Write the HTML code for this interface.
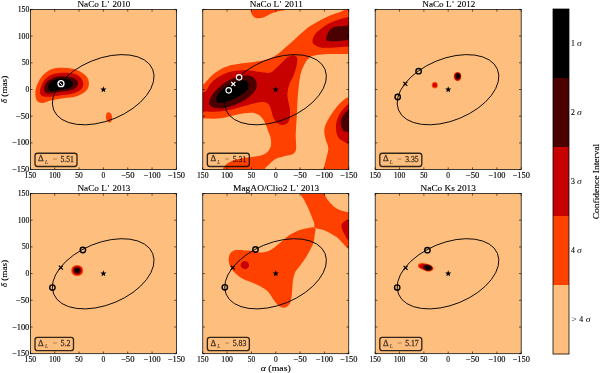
<!DOCTYPE html>
<html><head><meta charset="utf-8"><title>Confidence Interval maps</title>
<style>html,body{margin:0;padding:0;background:#fff;}svg{display:block;}</style>
</head><body>
<svg width="600" height="373" viewBox="0 0 600 373"><defs>
<clipPath id="cp0"><rect x="30.40" y="9.40" width="146.00" height="160.20"/></clipPath>
<clipPath id="cp1"><rect x="202.75" y="9.40" width="146.00" height="160.20"/></clipPath>
<clipPath id="cp2"><rect x="375.20" y="9.40" width="146.00" height="160.20"/></clipPath>
<clipPath id="cp3"><rect x="30.40" y="193.50" width="146.00" height="160.20"/></clipPath>
<clipPath id="cp4"><rect x="202.75" y="193.50" width="146.00" height="160.20"/></clipPath>
<clipPath id="cp5"><rect x="375.20" y="193.50" width="146.00" height="160.20"/></clipPath>
</defs>
<g clip-path="url(#cp0)">
<rect x="30.40" y="9.40" width="146.00" height="160.20" fill="#FEBE7E"/>
<path d="M35.40,91.50 C35.62,88.60 36.67,85.60 38.00,82.80 C39.33,80.00 40.93,77.05 43.40,74.70 C45.87,72.35 49.23,69.85 52.80,68.70 C56.37,67.55 60.78,67.58 64.80,67.80 C68.82,68.02 73.33,68.62 76.90,70.00 C80.47,71.38 84.20,73.87 86.20,76.10 C88.20,78.33 88.90,80.95 88.90,83.40 C88.90,85.85 88.20,88.67 86.20,90.80 C84.20,92.93 80.68,94.97 76.90,96.20 C73.12,97.43 67.75,97.53 63.50,98.20 C59.25,98.87 54.98,99.42 51.40,100.20 C47.82,100.98 44.45,102.90 42.00,102.90 C39.55,102.90 37.80,102.10 36.70,100.20 C35.60,98.30 35.18,94.40 35.40,91.50Z" fill="#FF4100"/>
<path d="M40.00,90.80 C40.33,88.45 41.50,84.08 43.40,81.40 C45.30,78.72 47.83,76.15 51.40,74.70 C54.97,73.25 60.55,72.70 64.80,72.70 C69.05,72.70 73.88,73.25 76.90,74.70 C79.92,76.15 82.12,79.05 82.90,81.40 C83.68,83.75 83.27,86.78 81.60,88.80 C79.93,90.82 76.58,92.38 72.90,93.50 C69.22,94.62 63.75,94.95 59.50,95.50 C55.25,96.05 50.42,96.80 47.40,96.80 C44.38,96.80 42.63,96.50 41.40,95.50 C40.17,94.50 39.67,93.15 40.00,90.80Z" fill="#C70000"/>
<path d="M44.00,88.80 C44.00,86.78 45.27,83.42 47.40,81.40 C49.53,79.38 53.23,77.48 56.80,76.70 C60.37,75.92 65.45,76.13 68.80,76.70 C72.15,77.27 75.45,78.65 76.90,80.10 C78.35,81.55 78.40,83.73 77.50,85.40 C76.60,87.07 74.73,88.98 71.50,90.10 C68.27,91.22 62.12,91.53 58.10,92.10 C54.08,92.67 49.75,94.05 47.40,93.50 C45.05,92.95 44.00,90.82 44.00,88.80Z" fill="#4A0000"/>
<path d="M48.10,86.80 C48.32,85.23 49.50,82.75 51.40,81.40 C53.30,80.05 56.60,79.03 59.50,78.70 C62.40,78.37 66.57,78.62 68.80,79.40 C71.03,80.18 72.67,82.05 72.90,83.40 C73.13,84.75 72.43,86.38 70.20,87.50 C67.97,88.62 62.85,89.55 59.50,90.10 C56.15,90.65 52.00,91.35 50.10,90.80 C48.20,90.25 47.88,88.37 48.10,86.80Z" fill="#000000"/>
<ellipse cx="109.00" cy="117.30" rx="3.10" ry="5.20" fill="#FF4100" transform="rotate(-8.0 109.00 117.30)"/>
<ellipse cx="0" cy="0" rx="53.5" ry="30.9" transform="translate(103.20 89.70) rotate(-22.4)" fill="none" stroke="#000" stroke-width="0.85"/>
<polygon points="103.40,86.20 104.21,88.38 106.54,88.48 104.72,89.93 105.34,92.17 103.40,90.89 101.46,92.17 102.08,89.93 100.26,88.48 102.59,88.38" fill="#000"/>
<circle cx="61.00" cy="83.70" r="3.00" fill="none" stroke="#fff" stroke-width="1.30"/>
<path d="M59.4,82.4 L62.4,85.2" stroke="#fff" stroke-width="1.0"/>
</g>
<g opacity="0.8">
<rect x="35.00" y="153.20" width="42.00" height="13.3" rx="2.4" ry="2.4" fill="none" stroke="#000" stroke-width="1.35"/>
</g><g opacity="0.72">
<text x="38.10" y="161.40" font-family="'Liberation Serif', 'DejaVu Serif', serif" font-size="8.0" fill="#000" stroke="#000" stroke-width="0.3" textLength="5.7" lengthAdjust="spacingAndGlyphs">Δ</text>
<text x="44.90" y="163.80" font-family="'Liberation Serif', 'DejaVu Serif', serif" font-size="5.4" font-style="italic" fill="#000" stroke="#000" stroke-width="0.1">L</text>
<text x="54.90" y="161.50" font-family="'Liberation Serif', 'DejaVu Serif', serif" font-size="8.6" fill="#000" fill-opacity="0.45" text-anchor="middle">=</text>
<text x="60.40" y="161.50" font-family="'Liberation Serif', 'DejaVu Serif', serif" font-size="7.6" fill="#000" stroke="#000" stroke-width="0.3" textLength="13.5" lengthAdjust="spacingAndGlyphs">5.51</text>
</g>
<rect x="30.40" y="9.40" width="146.00" height="160.20" fill="none" stroke="#000" stroke-width="0.75"/>
<path d="M30.40,9.40 v2.2 M30.40,169.60 v-2.2 M30.40,9.40 h2.2 M176.40,9.40 h-2.2 M54.73,9.40 v2.2 M54.73,169.60 v-2.2 M30.40,36.10 h2.2 M176.40,36.10 h-2.2 M79.07,9.40 v2.2 M79.07,169.60 v-2.2 M30.40,62.80 h2.2 M176.40,62.80 h-2.2 M103.40,9.40 v2.2 M103.40,169.60 v-2.2 M30.40,89.50 h2.2 M176.40,89.50 h-2.2 M127.73,9.40 v2.2 M127.73,169.60 v-2.2 M30.40,116.20 h2.2 M176.40,116.20 h-2.2 M152.07,9.40 v2.2 M152.07,169.60 v-2.2 M30.40,142.90 h2.2 M176.40,142.90 h-2.2 M176.40,9.40 v2.2 M176.40,169.60 v-2.2 M30.40,169.60 h2.2 M176.40,169.60 h-2.2" stroke="#000" stroke-width="0.6" fill="none"/>
<text x="77.45" y="6.75" font-family="'Liberation Serif', 'DejaVu Serif', serif" font-size="8.7" stroke="#000" stroke-width="0.12" textLength="29.40" lengthAdjust="spacingAndGlyphs">NaCo L</text>
<text x="107.50" y="6.75" font-family="'Liberation Serif', 'DejaVu Serif', serif" font-size="8.7" stroke="#000" stroke-width="0.12">&#39;</text>
<text x="112.45" y="6.75" font-family="'Liberation Serif', 'DejaVu Serif', serif" font-size="8.7" stroke="#000" stroke-width="0.12" textLength="17.90" lengthAdjust="spacingAndGlyphs">2010</text>
<text x="30.40" y="177.90" font-family="'Liberation Serif', 'DejaVu Serif', serif" font-size="7.4" text-anchor="middle" stroke="#000" stroke-width="0.12" textLength="11.6" lengthAdjust="spacingAndGlyphs">150</text>
<text x="54.73" y="177.90" font-family="'Liberation Serif', 'DejaVu Serif', serif" font-size="7.4" text-anchor="middle" stroke="#000" stroke-width="0.12" textLength="11.6" lengthAdjust="spacingAndGlyphs">100</text>
<text x="79.07" y="177.90" font-family="'Liberation Serif', 'DejaVu Serif', serif" font-size="7.4" text-anchor="middle" stroke="#000" stroke-width="0.12">50</text>
<text x="103.40" y="177.90" font-family="'Liberation Serif', 'DejaVu Serif', serif" font-size="7.4" text-anchor="middle" stroke="#000" stroke-width="0.12">0</text>
<text x="127.73" y="177.90" font-family="'Liberation Serif', 'DejaVu Serif', serif" font-size="7.4" text-anchor="middle" stroke="#000" stroke-width="0.12" textLength="13.5" lengthAdjust="spacingAndGlyphs">−50</text>
<text x="152.07" y="177.90" font-family="'Liberation Serif', 'DejaVu Serif', serif" font-size="7.4" text-anchor="middle" stroke="#000" stroke-width="0.12" textLength="17.3" lengthAdjust="spacingAndGlyphs">−100</text>
<text x="176.40" y="177.90" font-family="'Liberation Serif', 'DejaVu Serif', serif" font-size="7.4" text-anchor="middle" stroke="#000" stroke-width="0.12" textLength="17.3" lengthAdjust="spacingAndGlyphs">−150</text>
<text x="29.30" y="11.90" font-family="'Liberation Serif', 'DejaVu Serif', serif" font-size="7.4" text-anchor="end" stroke="#000" stroke-width="0.12" textLength="11.6" lengthAdjust="spacingAndGlyphs">150</text>
<text x="29.30" y="38.60" font-family="'Liberation Serif', 'DejaVu Serif', serif" font-size="7.4" text-anchor="end" stroke="#000" stroke-width="0.12" textLength="11.6" lengthAdjust="spacingAndGlyphs">100</text>
<text x="29.30" y="65.30" font-family="'Liberation Serif', 'DejaVu Serif', serif" font-size="7.4" text-anchor="end" stroke="#000" stroke-width="0.12">50</text>
<text x="29.30" y="92.00" font-family="'Liberation Serif', 'DejaVu Serif', serif" font-size="7.4" text-anchor="end" stroke="#000" stroke-width="0.12">0</text>
<text x="29.30" y="118.70" font-family="'Liberation Serif', 'DejaVu Serif', serif" font-size="7.4" text-anchor="end" stroke="#000" stroke-width="0.12" textLength="13.5" lengthAdjust="spacingAndGlyphs">−50</text>
<text x="29.30" y="145.40" font-family="'Liberation Serif', 'DejaVu Serif', serif" font-size="7.4" text-anchor="end" stroke="#000" stroke-width="0.12" textLength="17.3" lengthAdjust="spacingAndGlyphs">−100</text>
<text x="29.30" y="172.10" font-family="'Liberation Serif', 'DejaVu Serif', serif" font-size="7.4" text-anchor="end" stroke="#000" stroke-width="0.12" textLength="17.3" lengthAdjust="spacingAndGlyphs">−150</text>
<text transform="translate(7.4 89.50) rotate(-90)" font-family="'Liberation Serif', 'DejaVu Serif', serif" font-size="8.7" stroke="#000" stroke-width="0.12" text-anchor="middle" textLength="27.5" lengthAdjust="spacingAndGlyphs"><tspan font-style="italic">&#948;</tspan> (mas)</text>
<g clip-path="url(#cp1)">
<rect x="202.75" y="9.40" width="146.00" height="160.20" fill="#FEBE7E"/>
<rect x="202.75" y="9.40" width="146.00" height="160.20" fill="#FF4100"/>
<path d="M195.00,0.00 C204.23,-15.00 241.13,-1.57 250.40,0.00 C259.67,1.57 250.42,7.15 250.60,9.40 C250.78,11.65 250.93,12.23 251.50,13.50 C252.07,14.77 252.92,16.20 254.00,17.00 C255.08,17.80 256.33,18.27 258.00,18.30 C259.67,18.33 261.50,18.12 264.00,17.20 C266.50,16.28 270.33,13.83 273.00,12.80 C275.67,11.77 278.00,11.47 280.00,11.00 C282.00,10.53 283.33,11.00 285.00,10.00 C286.67,9.00 279.83,5.83 290.00,5.00 C300.17,4.17 337.22,4.03 346.00,5.00 C354.78,5.97 344.70,9.30 342.70,10.80 C340.70,12.30 336.75,12.93 334.00,14.00 C331.25,15.07 328.87,15.95 326.20,17.20 C323.53,18.45 320.75,19.98 318.00,21.50 C315.25,23.02 311.85,24.88 309.70,26.30 C307.55,27.72 306.97,28.42 305.10,30.00 C303.23,31.58 300.65,33.83 298.50,35.80 C296.35,37.77 294.20,40.02 292.20,41.80 C290.20,43.58 288.28,44.98 286.50,46.50 C284.72,48.02 283.23,49.45 281.50,50.90 C279.77,52.35 278.02,53.97 276.10,55.20 C274.18,56.43 272.37,57.37 270.00,58.30 C267.63,59.23 265.75,60.05 261.90,60.80 C258.05,61.55 251.92,62.10 246.90,62.80 C241.88,63.50 234.98,64.42 231.80,65.00 C228.62,65.58 229.58,65.63 227.80,66.30 C226.02,66.97 223.57,67.65 221.10,69.00 C218.63,70.35 215.33,72.48 213.00,74.40 C210.67,76.32 208.81,78.73 207.10,80.50 C205.39,82.27 204.77,83.42 202.75,85.00 C200.73,86.58 196.29,104.17 195.00,90.00 C193.71,75.83 185.77,15.00 195.00,0.00Z" fill="#FEBE7E"/>
<path d="M195.00,120.30 C196.29,110.75 199.47,118.97 202.75,118.70 C206.03,118.43 210.74,118.95 214.70,118.70 C218.66,118.45 222.57,117.95 226.50,117.20 C230.43,116.45 234.38,114.93 238.30,114.20 C242.22,113.47 247.25,112.97 250.00,112.80 C252.75,112.63 253.18,112.73 254.80,113.20 C256.42,113.67 258.22,114.38 259.70,115.60 C261.18,116.82 262.63,118.88 263.70,120.50 C264.77,122.12 265.37,123.57 266.10,125.30 C266.83,127.03 267.37,128.88 268.10,130.90 C268.83,132.92 270.02,135.05 270.50,137.40 C270.98,139.75 271.38,142.73 271.00,145.00 C270.62,147.27 269.58,149.38 268.25,151.00 C266.92,152.62 265.38,153.80 263.00,154.75 C260.62,155.70 257.00,156.20 254.00,156.70 C251.00,157.20 248.25,157.20 245.00,157.75 C241.75,158.30 237.50,159.00 234.50,160.00 C231.50,161.00 229.00,162.18 227.00,163.75 C225.00,165.32 223.50,167.36 222.50,169.40 C221.50,171.44 225.58,174.90 221.00,176.00 C216.42,177.10 199.33,185.28 195.00,176.00 C190.67,166.72 193.71,129.85 195.00,120.30Z" fill="#FEBE7E"/>
<path d="M318.40,54.80 C314.62,55.37 311.93,55.80 309.60,57.40 C307.27,59.00 305.85,61.78 304.40,64.40 C302.95,67.02 301.82,69.67 300.90,73.10 C299.98,76.53 299.43,81.02 298.90,85.00 C298.37,88.98 298.00,92.98 297.70,97.00 C297.40,101.02 297.30,105.07 297.10,109.10 C296.90,113.13 296.73,116.97 296.50,121.20 C296.27,125.43 295.78,131.03 295.70,134.50 C295.62,137.97 295.95,139.50 296.00,142.00 C296.05,144.50 296.50,147.50 296.00,149.50 C295.50,151.50 295.00,152.88 293.00,154.00 C291.00,155.12 287.00,155.38 284.00,156.25 C281.00,157.12 277.50,157.88 275.00,159.25 C272.50,160.62 270.75,162.81 269.00,164.50 C267.25,166.19 265.50,167.48 264.50,169.40 C263.50,171.32 253.25,174.90 263.00,176.00 C272.75,177.10 312.93,177.10 323.00,176.00 C333.07,174.90 323.17,171.13 323.40,169.40 C323.63,167.67 323.92,167.52 324.40,165.60 C324.88,163.68 325.65,160.78 326.30,157.90 C326.95,155.02 328.45,151.52 328.30,148.30 C328.15,145.08 326.05,141.82 325.40,138.60 C324.75,135.38 323.92,132.22 324.40,129.00 C324.88,125.78 326.37,122.85 328.30,119.30 C330.23,115.75 333.43,110.92 336.00,107.70 C338.57,104.48 341.57,101.78 343.70,100.00 C345.82,98.22 346.70,97.67 348.75,97.00 C350.80,96.33 354.79,103.17 356.00,96.00 C357.21,88.83 357.33,61.02 356.00,54.00 C354.67,46.98 351.95,53.90 348.00,53.90 C344.05,53.90 337.23,53.85 332.30,54.00 C327.37,54.15 322.18,54.23 318.40,54.80Z" fill="#FEBE7E"/>
<path d="M356.00,15.00 C354.79,10.17 351.08,16.42 348.75,17.00 C346.42,17.58 344.24,17.87 342.00,18.50 C339.76,19.13 337.80,19.80 335.30,20.80 C332.80,21.80 329.43,23.12 327.00,24.50 C324.57,25.88 322.53,27.68 320.70,29.10 C318.87,30.52 317.23,31.63 316.00,33.00 C314.77,34.37 313.88,35.97 313.30,37.30 C312.72,38.63 312.50,39.92 312.50,41.00 C312.50,42.08 312.63,42.97 313.30,43.80 C313.97,44.63 315.27,45.40 316.50,46.00 C317.73,46.60 318.78,47.10 320.70,47.40 C322.62,47.70 325.57,47.80 328.00,47.80 C330.43,47.80 332.97,47.53 335.30,47.40 C337.63,47.27 339.76,47.15 342.00,47.00 C344.24,46.85 346.42,46.67 348.75,46.50 C351.08,46.33 354.79,51.25 356.00,46.00 C357.21,40.75 357.21,19.83 356.00,15.00Z" fill="#C70000"/>
<path d="M356.00,25.00 C354.79,22.57 351.58,25.18 348.75,25.40 C345.92,25.62 341.62,25.95 339.00,26.30 C336.38,26.65 334.53,26.88 333.00,27.50 C331.47,28.12 330.72,28.92 329.80,30.00 C328.88,31.08 328.10,32.62 327.50,34.00 C326.90,35.38 326.12,37.13 326.20,38.30 C326.28,39.47 326.17,40.52 328.00,41.00 C329.83,41.48 333.74,41.35 337.20,41.20 C340.66,41.05 345.62,40.30 348.75,40.10 C351.88,39.90 354.79,42.52 356.00,40.00 C357.21,37.48 357.21,27.43 356.00,25.00Z" fill="#4A0000"/>
<path d="M356.00,101.00 C354.75,94.33 351.20,101.92 348.50,104.00 C345.80,106.08 341.88,109.98 339.80,113.50 C337.72,117.02 336.32,121.23 336.00,125.10 C335.68,128.97 336.62,133.97 337.90,136.70 C339.18,139.43 341.93,140.38 343.70,141.50 C345.47,142.62 346.45,142.98 348.50,143.40 C350.55,143.82 354.75,151.07 356.00,144.00 C357.25,136.93 357.25,107.67 356.00,101.00Z" fill="#C70000"/>
<path d="M356.00,108.00 C354.75,104.28 350.87,108.13 348.50,109.70 C346.13,111.27 343.08,114.83 341.80,117.40 C340.52,119.97 340.48,122.85 340.80,125.10 C341.12,127.35 342.42,129.77 343.70,130.90 C344.98,132.03 346.45,131.72 348.50,131.90 C350.55,132.08 354.75,135.98 356.00,132.00 C357.25,128.02 357.25,111.72 356.00,108.00Z" fill="#4A0000"/>
<path d="M196.00,93.00 C197.50,89.72 202.60,93.35 205.00,91.80 C207.40,90.25 208.17,86.15 210.40,83.70 C212.63,81.25 215.50,78.98 218.40,77.10 C221.30,75.22 224.45,73.52 227.80,72.40 C231.15,71.28 234.93,70.73 238.50,70.40 C242.07,70.07 245.85,70.18 249.20,70.40 C252.55,70.62 256.05,71.33 258.60,71.70 C261.15,72.07 262.52,72.47 264.50,72.60 C266.48,72.73 268.43,73.35 270.50,72.50 C272.57,71.65 274.58,69.58 276.90,67.50 C279.22,65.42 282.38,61.83 284.40,60.00 C286.42,58.17 287.43,57.28 289.00,56.50 C290.57,55.72 292.43,55.03 293.80,55.30 C295.17,55.57 296.67,56.82 297.20,58.10 C297.73,59.38 297.20,61.35 297.00,63.00 C296.80,64.65 296.65,65.73 296.00,68.00 C295.35,70.27 294.17,74.00 293.10,76.60 C292.03,79.20 290.48,81.27 289.60,83.60 C288.72,85.93 288.15,88.35 287.80,90.60 C287.45,92.85 287.35,95.02 287.50,97.10 C287.65,99.18 288.30,101.10 288.70,103.10 C289.10,105.10 289.70,107.08 289.90,109.10 C290.10,111.12 290.10,113.18 289.90,115.20 C289.70,117.22 289.40,119.70 288.70,121.20 C288.00,122.70 287.02,123.60 285.70,124.20 C284.38,124.80 282.42,125.20 280.80,124.80 C279.18,124.40 277.30,123.20 276.00,121.80 C274.70,120.40 273.80,118.32 273.00,116.40 C272.20,114.48 271.80,112.12 271.20,110.30 C270.60,108.48 270.43,106.85 269.40,105.50 C268.37,104.15 267.47,102.58 265.00,102.20 C262.53,101.82 257.90,102.60 254.60,103.20 C251.30,103.80 248.33,104.92 245.20,105.80 C242.07,106.68 239.15,107.67 235.80,108.50 C232.45,109.33 228.45,110.25 225.10,110.80 C221.75,111.35 219.05,111.68 215.70,111.80 C212.35,111.92 208.28,111.55 205.00,111.50 C201.72,111.45 197.50,114.58 196.00,111.50 C194.50,108.42 194.50,96.28 196.00,93.00Z" fill="#C70000"/>
<path d="M209.00,102.50 C209.22,100.83 210.35,98.03 211.70,95.80 C213.05,93.57 214.87,91.33 217.10,89.10 C219.33,86.87 222.20,84.30 225.10,82.40 C228.00,80.50 231.38,78.82 234.50,77.70 C237.62,76.58 240.90,75.92 243.80,75.70 C246.70,75.48 249.88,75.50 251.90,76.40 C253.92,77.30 255.12,79.32 255.90,81.10 C256.68,82.88 257.05,85.10 256.60,87.10 C256.15,89.10 255.10,90.98 253.20,93.10 C251.30,95.22 248.10,97.90 245.20,99.80 C242.30,101.70 239.15,103.15 235.80,104.50 C232.45,105.85 228.45,107.33 225.10,107.90 C221.75,108.47 218.15,108.25 215.70,107.90 C213.25,107.55 211.52,106.70 210.40,105.80 C209.28,104.90 208.78,104.17 209.00,102.50Z" fill="#4A0000"/>
<path d="M216.40,100.50 C216.18,99.33 216.32,97.48 217.10,95.80 C217.88,94.12 219.55,91.97 221.10,90.40 C222.65,88.83 224.17,87.73 226.40,86.40 C228.63,85.07 232.03,83.40 234.50,82.40 C236.97,81.40 239.20,80.62 241.20,80.40 C243.20,80.18 245.28,80.32 246.50,81.10 C247.72,81.88 248.50,83.43 248.50,85.10 C248.50,86.77 247.95,89.32 246.50,91.10 C245.05,92.88 242.25,94.35 239.80,95.80 C237.35,97.25 234.48,98.68 231.80,99.80 C229.12,100.92 225.93,102.00 223.70,102.50 C221.47,103.00 219.62,103.13 218.40,102.80 C217.18,102.47 216.62,101.67 216.40,100.50Z" fill="#000000"/>
<ellipse cx="0" cy="0" rx="53.5" ry="30.9" transform="translate(275.55 89.70) rotate(-22.4)" fill="none" stroke="#000" stroke-width="0.85"/>
<polygon points="275.75,86.20 276.56,88.38 278.89,88.48 277.07,89.93 277.69,92.17 275.75,90.89 273.81,92.17 274.43,89.93 272.61,88.48 274.94,88.38" fill="#000"/>
<circle cx="228.70" cy="90.30" r="2.75" fill="none" stroke="#fff" stroke-width="1.15"/>
<circle cx="239.10" cy="77.30" r="2.75" fill="none" stroke="#fff" stroke-width="1.15"/>
<path d="M231.30,82.00 L235.30,86.00 M231.30,86.00 L235.30,82.00" stroke="#fff" stroke-width="1.15" fill="none"/>
</g>
<g opacity="0.8">
<rect x="207.35" y="153.20" width="42.00" height="13.3" rx="2.4" ry="2.4" fill="none" stroke="#000" stroke-width="1.35"/>
</g><g opacity="0.72">
<text x="210.45" y="161.40" font-family="'Liberation Serif', 'DejaVu Serif', serif" font-size="8.0" fill="#000" stroke="#000" stroke-width="0.3" textLength="5.7" lengthAdjust="spacingAndGlyphs">Δ</text>
<text x="217.25" y="163.80" font-family="'Liberation Serif', 'DejaVu Serif', serif" font-size="5.4" font-style="italic" fill="#000" stroke="#000" stroke-width="0.1">L</text>
<text x="227.25" y="161.50" font-family="'Liberation Serif', 'DejaVu Serif', serif" font-size="8.6" fill="#000" fill-opacity="0.45" text-anchor="middle">=</text>
<text x="232.75" y="161.50" font-family="'Liberation Serif', 'DejaVu Serif', serif" font-size="7.6" fill="#000" stroke="#000" stroke-width="0.3" textLength="13.5" lengthAdjust="spacingAndGlyphs">5.31</text>
</g>
<rect x="202.75" y="9.40" width="146.00" height="160.20" fill="none" stroke="#000" stroke-width="0.75"/>
<path d="M202.75,9.40 v2.2 M202.75,169.60 v-2.2 M202.75,9.40 h2.2 M348.75,9.40 h-2.2 M227.08,9.40 v2.2 M227.08,169.60 v-2.2 M202.75,36.10 h2.2 M348.75,36.10 h-2.2 M251.42,9.40 v2.2 M251.42,169.60 v-2.2 M202.75,62.80 h2.2 M348.75,62.80 h-2.2 M275.75,9.40 v2.2 M275.75,169.60 v-2.2 M202.75,89.50 h2.2 M348.75,89.50 h-2.2 M300.08,9.40 v2.2 M300.08,169.60 v-2.2 M202.75,116.20 h2.2 M348.75,116.20 h-2.2 M324.42,9.40 v2.2 M324.42,169.60 v-2.2 M202.75,142.90 h2.2 M348.75,142.90 h-2.2 M348.75,9.40 v2.2 M348.75,169.60 v-2.2 M202.75,169.60 h2.2 M348.75,169.60 h-2.2" stroke="#000" stroke-width="0.6" fill="none"/>
<text x="249.80" y="6.75" font-family="'Liberation Serif', 'DejaVu Serif', serif" font-size="8.7" stroke="#000" stroke-width="0.12" textLength="29.40" lengthAdjust="spacingAndGlyphs">NaCo L</text>
<text x="279.85" y="6.75" font-family="'Liberation Serif', 'DejaVu Serif', serif" font-size="8.7" stroke="#000" stroke-width="0.12">&#39;</text>
<text x="284.80" y="6.75" font-family="'Liberation Serif', 'DejaVu Serif', serif" font-size="8.7" stroke="#000" stroke-width="0.12" textLength="17.90" lengthAdjust="spacingAndGlyphs">2011</text>
<text x="202.75" y="177.90" font-family="'Liberation Serif', 'DejaVu Serif', serif" font-size="7.4" text-anchor="middle" stroke="#000" stroke-width="0.12" textLength="11.6" lengthAdjust="spacingAndGlyphs">150</text>
<text x="227.08" y="177.90" font-family="'Liberation Serif', 'DejaVu Serif', serif" font-size="7.4" text-anchor="middle" stroke="#000" stroke-width="0.12" textLength="11.6" lengthAdjust="spacingAndGlyphs">100</text>
<text x="251.42" y="177.90" font-family="'Liberation Serif', 'DejaVu Serif', serif" font-size="7.4" text-anchor="middle" stroke="#000" stroke-width="0.12">50</text>
<text x="275.75" y="177.90" font-family="'Liberation Serif', 'DejaVu Serif', serif" font-size="7.4" text-anchor="middle" stroke="#000" stroke-width="0.12">0</text>
<text x="300.08" y="177.90" font-family="'Liberation Serif', 'DejaVu Serif', serif" font-size="7.4" text-anchor="middle" stroke="#000" stroke-width="0.12" textLength="13.5" lengthAdjust="spacingAndGlyphs">−50</text>
<text x="324.42" y="177.90" font-family="'Liberation Serif', 'DejaVu Serif', serif" font-size="7.4" text-anchor="middle" stroke="#000" stroke-width="0.12" textLength="17.3" lengthAdjust="spacingAndGlyphs">−100</text>
<text x="348.75" y="177.90" font-family="'Liberation Serif', 'DejaVu Serif', serif" font-size="7.4" text-anchor="middle" stroke="#000" stroke-width="0.12" textLength="17.3" lengthAdjust="spacingAndGlyphs">−150</text>
<g clip-path="url(#cp2)">
<rect x="375.20" y="9.40" width="146.00" height="160.20" fill="#FEBE7E"/>
<ellipse cx="457.50" cy="76.60" rx="3.80" ry="4.60" fill="#FF4100"/>
<ellipse cx="457.60" cy="76.50" rx="3.30" ry="4.10" fill="#C70000"/>
<ellipse cx="457.80" cy="76.30" rx="2.60" ry="3.30" fill="#4A0000"/>
<ellipse cx="457.90" cy="76.10" rx="1.80" ry="2.40" fill="#000000"/>
<ellipse cx="434.80" cy="85.20" rx="3.00" ry="3.10" fill="#FF4100"/>
<ellipse cx="434.80" cy="85.20" rx="2.00" ry="2.10" fill="#C70000"/>
<ellipse cx="0" cy="0" rx="53.5" ry="30.9" transform="translate(448.00 89.70) rotate(-22.4)" fill="none" stroke="#000" stroke-width="0.85"/>
<polygon points="448.20,86.20 449.01,88.38 451.34,88.48 449.52,89.93 450.14,92.17 448.20,90.89 446.26,92.17 446.88,89.93 445.06,88.48 447.39,88.38" fill="#000"/>
<circle cx="418.60" cy="71.20" r="2.70" fill="none" stroke="#000" stroke-width="1.40"/>
<circle cx="397.70" cy="97.00" r="2.70" fill="none" stroke="#000" stroke-width="1.40"/>
<path d="M403.30,81.80 L407.30,85.80 M403.30,85.80 L407.30,81.80" stroke="#000" stroke-width="1.20" fill="none"/>
</g>
<g opacity="0.8">
<rect x="379.80" y="153.20" width="42.00" height="13.3" rx="2.4" ry="2.4" fill="none" stroke="#000" stroke-width="1.35"/>
</g><g opacity="0.72">
<text x="382.90" y="161.40" font-family="'Liberation Serif', 'DejaVu Serif', serif" font-size="8.0" fill="#000" stroke="#000" stroke-width="0.3" textLength="5.7" lengthAdjust="spacingAndGlyphs">Δ</text>
<text x="389.70" y="163.80" font-family="'Liberation Serif', 'DejaVu Serif', serif" font-size="5.4" font-style="italic" fill="#000" stroke="#000" stroke-width="0.1">L</text>
<text x="399.70" y="161.50" font-family="'Liberation Serif', 'DejaVu Serif', serif" font-size="8.6" fill="#000" fill-opacity="0.45" text-anchor="middle">=</text>
<text x="405.20" y="161.50" font-family="'Liberation Serif', 'DejaVu Serif', serif" font-size="7.6" fill="#000" stroke="#000" stroke-width="0.3" textLength="13.5" lengthAdjust="spacingAndGlyphs">3.35</text>
</g>
<rect x="375.20" y="9.40" width="146.00" height="160.20" fill="none" stroke="#000" stroke-width="0.75"/>
<path d="M375.20,9.40 v2.2 M375.20,169.60 v-2.2 M375.20,9.40 h2.2 M521.20,9.40 h-2.2 M399.53,9.40 v2.2 M399.53,169.60 v-2.2 M375.20,36.10 h2.2 M521.20,36.10 h-2.2 M423.87,9.40 v2.2 M423.87,169.60 v-2.2 M375.20,62.80 h2.2 M521.20,62.80 h-2.2 M448.20,9.40 v2.2 M448.20,169.60 v-2.2 M375.20,89.50 h2.2 M521.20,89.50 h-2.2 M472.53,9.40 v2.2 M472.53,169.60 v-2.2 M375.20,116.20 h2.2 M521.20,116.20 h-2.2 M496.87,9.40 v2.2 M496.87,169.60 v-2.2 M375.20,142.90 h2.2 M521.20,142.90 h-2.2 M521.20,9.40 v2.2 M521.20,169.60 v-2.2 M375.20,169.60 h2.2 M521.20,169.60 h-2.2" stroke="#000" stroke-width="0.6" fill="none"/>
<text x="422.25" y="6.75" font-family="'Liberation Serif', 'DejaVu Serif', serif" font-size="8.7" stroke="#000" stroke-width="0.12" textLength="29.40" lengthAdjust="spacingAndGlyphs">NaCo L</text>
<text x="452.30" y="6.75" font-family="'Liberation Serif', 'DejaVu Serif', serif" font-size="8.7" stroke="#000" stroke-width="0.12">&#39;</text>
<text x="457.25" y="6.75" font-family="'Liberation Serif', 'DejaVu Serif', serif" font-size="8.7" stroke="#000" stroke-width="0.12" textLength="17.90" lengthAdjust="spacingAndGlyphs">2012</text>
<text x="375.20" y="177.90" font-family="'Liberation Serif', 'DejaVu Serif', serif" font-size="7.4" text-anchor="middle" stroke="#000" stroke-width="0.12" textLength="11.6" lengthAdjust="spacingAndGlyphs">150</text>
<text x="399.53" y="177.90" font-family="'Liberation Serif', 'DejaVu Serif', serif" font-size="7.4" text-anchor="middle" stroke="#000" stroke-width="0.12" textLength="11.6" lengthAdjust="spacingAndGlyphs">100</text>
<text x="423.87" y="177.90" font-family="'Liberation Serif', 'DejaVu Serif', serif" font-size="7.4" text-anchor="middle" stroke="#000" stroke-width="0.12">50</text>
<text x="448.20" y="177.90" font-family="'Liberation Serif', 'DejaVu Serif', serif" font-size="7.4" text-anchor="middle" stroke="#000" stroke-width="0.12">0</text>
<text x="472.53" y="177.90" font-family="'Liberation Serif', 'DejaVu Serif', serif" font-size="7.4" text-anchor="middle" stroke="#000" stroke-width="0.12" textLength="13.5" lengthAdjust="spacingAndGlyphs">−50</text>
<text x="496.87" y="177.90" font-family="'Liberation Serif', 'DejaVu Serif', serif" font-size="7.4" text-anchor="middle" stroke="#000" stroke-width="0.12" textLength="17.3" lengthAdjust="spacingAndGlyphs">−100</text>
<text x="521.20" y="177.90" font-family="'Liberation Serif', 'DejaVu Serif', serif" font-size="7.4" text-anchor="middle" stroke="#000" stroke-width="0.12" textLength="17.3" lengthAdjust="spacingAndGlyphs">−150</text>
<g clip-path="url(#cp3)">
<rect x="30.40" y="193.50" width="146.00" height="160.20" fill="#FEBE7E"/>
<ellipse cx="77.20" cy="270.50" rx="6.00" ry="5.60" fill="#FF4100"/>
<ellipse cx="77.20" cy="270.50" rx="4.80" ry="4.50" fill="#C70000"/>
<ellipse cx="77.20" cy="270.50" rx="3.40" ry="3.20" fill="#4A0000"/>
<ellipse cx="77.20" cy="270.50" rx="2.20" ry="2.10" fill="#000000"/>
<ellipse cx="0" cy="0" rx="53.5" ry="30.9" transform="translate(103.20 273.80) rotate(-22.4)" fill="none" stroke="#000" stroke-width="0.85"/>
<polygon points="103.40,270.30 104.21,272.48 106.54,272.58 104.72,274.03 105.34,276.27 103.40,274.99 101.46,276.27 102.08,274.03 100.26,272.58 102.59,272.48" fill="#000"/>
<circle cx="82.90" cy="250.00" r="2.70" fill="none" stroke="#000" stroke-width="1.40"/>
<circle cx="52.40" cy="287.60" r="2.70" fill="none" stroke="#000" stroke-width="1.40"/>
<path d="M58.90,265.70 L62.90,269.70 M58.90,269.70 L62.90,265.70" stroke="#000" stroke-width="1.20" fill="none"/>
</g>
<g opacity="0.8">
<rect x="35.00" y="337.30" width="38.50" height="13.3" rx="2.4" ry="2.4" fill="none" stroke="#000" stroke-width="1.35"/>
</g><g opacity="0.72">
<text x="38.10" y="345.50" font-family="'Liberation Serif', 'DejaVu Serif', serif" font-size="8.0" fill="#000" stroke="#000" stroke-width="0.3" textLength="5.7" lengthAdjust="spacingAndGlyphs">Δ</text>
<text x="44.90" y="347.90" font-family="'Liberation Serif', 'DejaVu Serif', serif" font-size="5.4" font-style="italic" fill="#000" stroke="#000" stroke-width="0.1">L</text>
<text x="54.90" y="345.60" font-family="'Liberation Serif', 'DejaVu Serif', serif" font-size="8.6" fill="#000" fill-opacity="0.45" text-anchor="middle">=</text>
<text x="60.40" y="345.60" font-family="'Liberation Serif', 'DejaVu Serif', serif" font-size="7.6" fill="#000" stroke="#000" stroke-width="0.3" textLength="10.0" lengthAdjust="spacingAndGlyphs">5.2</text>
</g>
<rect x="30.40" y="193.50" width="146.00" height="160.20" fill="none" stroke="#000" stroke-width="0.75"/>
<path d="M30.40,193.50 v2.2 M30.40,353.70 v-2.2 M30.40,193.50 h2.2 M176.40,193.50 h-2.2 M54.73,193.50 v2.2 M54.73,353.70 v-2.2 M30.40,220.20 h2.2 M176.40,220.20 h-2.2 M79.07,193.50 v2.2 M79.07,353.70 v-2.2 M30.40,246.90 h2.2 M176.40,246.90 h-2.2 M103.40,193.50 v2.2 M103.40,353.70 v-2.2 M30.40,273.60 h2.2 M176.40,273.60 h-2.2 M127.73,193.50 v2.2 M127.73,353.70 v-2.2 M30.40,300.30 h2.2 M176.40,300.30 h-2.2 M152.07,193.50 v2.2 M152.07,353.70 v-2.2 M30.40,327.00 h2.2 M176.40,327.00 h-2.2 M176.40,193.50 v2.2 M176.40,353.70 v-2.2 M30.40,353.70 h2.2 M176.40,353.70 h-2.2" stroke="#000" stroke-width="0.6" fill="none"/>
<text x="77.45" y="190.85" font-family="'Liberation Serif', 'DejaVu Serif', serif" font-size="8.7" stroke="#000" stroke-width="0.12" textLength="29.40" lengthAdjust="spacingAndGlyphs">NaCo L</text>
<text x="107.50" y="190.85" font-family="'Liberation Serif', 'DejaVu Serif', serif" font-size="8.7" stroke="#000" stroke-width="0.12">&#39;</text>
<text x="112.45" y="190.85" font-family="'Liberation Serif', 'DejaVu Serif', serif" font-size="8.7" stroke="#000" stroke-width="0.12" textLength="17.90" lengthAdjust="spacingAndGlyphs">2013</text>
<text x="30.40" y="362.00" font-family="'Liberation Serif', 'DejaVu Serif', serif" font-size="7.4" text-anchor="middle" stroke="#000" stroke-width="0.12" textLength="11.6" lengthAdjust="spacingAndGlyphs">150</text>
<text x="54.73" y="362.00" font-family="'Liberation Serif', 'DejaVu Serif', serif" font-size="7.4" text-anchor="middle" stroke="#000" stroke-width="0.12" textLength="11.6" lengthAdjust="spacingAndGlyphs">100</text>
<text x="79.07" y="362.00" font-family="'Liberation Serif', 'DejaVu Serif', serif" font-size="7.4" text-anchor="middle" stroke="#000" stroke-width="0.12">50</text>
<text x="103.40" y="362.00" font-family="'Liberation Serif', 'DejaVu Serif', serif" font-size="7.4" text-anchor="middle" stroke="#000" stroke-width="0.12">0</text>
<text x="127.73" y="362.00" font-family="'Liberation Serif', 'DejaVu Serif', serif" font-size="7.4" text-anchor="middle" stroke="#000" stroke-width="0.12" textLength="13.5" lengthAdjust="spacingAndGlyphs">−50</text>
<text x="152.07" y="362.00" font-family="'Liberation Serif', 'DejaVu Serif', serif" font-size="7.4" text-anchor="middle" stroke="#000" stroke-width="0.12" textLength="17.3" lengthAdjust="spacingAndGlyphs">−100</text>
<text x="176.40" y="362.00" font-family="'Liberation Serif', 'DejaVu Serif', serif" font-size="7.4" text-anchor="middle" stroke="#000" stroke-width="0.12" textLength="17.3" lengthAdjust="spacingAndGlyphs">−150</text>
<text x="29.30" y="196.00" font-family="'Liberation Serif', 'DejaVu Serif', serif" font-size="7.4" text-anchor="end" stroke="#000" stroke-width="0.12" textLength="11.6" lengthAdjust="spacingAndGlyphs">150</text>
<text x="29.30" y="222.70" font-family="'Liberation Serif', 'DejaVu Serif', serif" font-size="7.4" text-anchor="end" stroke="#000" stroke-width="0.12" textLength="11.6" lengthAdjust="spacingAndGlyphs">100</text>
<text x="29.30" y="249.40" font-family="'Liberation Serif', 'DejaVu Serif', serif" font-size="7.4" text-anchor="end" stroke="#000" stroke-width="0.12">50</text>
<text x="29.30" y="276.10" font-family="'Liberation Serif', 'DejaVu Serif', serif" font-size="7.4" text-anchor="end" stroke="#000" stroke-width="0.12">0</text>
<text x="29.30" y="302.80" font-family="'Liberation Serif', 'DejaVu Serif', serif" font-size="7.4" text-anchor="end" stroke="#000" stroke-width="0.12" textLength="13.5" lengthAdjust="spacingAndGlyphs">−50</text>
<text x="29.30" y="329.50" font-family="'Liberation Serif', 'DejaVu Serif', serif" font-size="7.4" text-anchor="end" stroke="#000" stroke-width="0.12" textLength="17.3" lengthAdjust="spacingAndGlyphs">−100</text>
<text x="29.30" y="356.20" font-family="'Liberation Serif', 'DejaVu Serif', serif" font-size="7.4" text-anchor="end" stroke="#000" stroke-width="0.12" textLength="17.3" lengthAdjust="spacingAndGlyphs">−150</text>
<text transform="translate(7.4 273.60) rotate(-90)" font-family="'Liberation Serif', 'DejaVu Serif', serif" font-size="8.7" stroke="#000" stroke-width="0.12" text-anchor="middle" textLength="27.5" lengthAdjust="spacingAndGlyphs"><tspan font-style="italic">&#948;</tspan> (mas)</text>
<g clip-path="url(#cp4)">
<rect x="202.75" y="193.50" width="146.00" height="160.20" fill="#FEBE7E"/>
<path d="M233.40,250.70 C235.07,250.03 237.77,250.03 240.00,250.00 C242.23,249.97 244.33,250.32 246.80,250.50 C249.27,250.68 252.60,250.77 254.80,251.10 C257.00,251.43 257.80,252.48 260.00,252.50 C262.20,252.52 265.55,252.08 268.00,251.20 C270.45,250.32 272.47,248.77 274.70,247.20 C276.93,245.63 278.93,243.82 281.40,241.80 C283.87,239.78 286.77,236.93 289.50,235.10 C292.23,233.27 295.13,231.90 297.80,230.80 C300.47,229.70 302.65,229.02 305.50,228.50 C308.35,227.98 313.38,226.53 314.90,227.70 C316.42,228.87 314.87,232.90 314.60,235.50 C314.33,238.10 314.23,240.55 313.30,243.30 C312.37,246.05 310.52,249.22 309.00,252.00 C307.48,254.78 305.73,257.68 304.20,260.00 C302.67,262.32 301.27,263.93 299.80,265.90 C298.33,267.87 296.50,269.58 295.40,271.80 C294.30,274.02 293.70,276.75 293.20,279.20 C292.70,281.65 292.65,283.80 292.40,286.50 C292.15,289.20 292.07,292.68 291.70,295.40 C291.33,298.12 291.07,300.88 290.20,302.80 C289.33,304.72 287.85,306.12 286.50,306.90 C285.15,307.68 283.57,307.82 282.10,307.50 C280.63,307.18 278.93,306.03 277.70,305.00 C276.47,303.97 275.68,302.65 274.70,301.30 C273.72,299.95 272.78,298.38 271.80,296.90 C270.82,295.42 270.03,293.75 268.80,292.40 C267.57,291.05 266.07,289.95 264.40,288.80 C262.73,287.65 261.07,286.62 258.80,285.50 C256.53,284.38 253.47,283.22 250.80,282.10 C248.13,280.98 245.25,280.13 242.80,278.80 C240.35,277.47 238.00,275.78 236.10,274.10 C234.20,272.42 232.57,270.48 231.40,268.70 C230.23,266.92 229.55,265.18 229.10,263.40 C228.65,261.62 228.55,259.57 228.70,258.00 C228.85,256.43 229.22,255.22 230.00,254.00 C230.78,252.78 231.73,251.37 233.40,250.70Z" fill="#FF4100"/>
<path d="M300.00,185.00 C296.27,186.48 299.93,191.43 300.60,193.90 C301.27,196.37 302.78,197.53 304.00,199.80 C305.22,202.07 306.60,204.65 307.90,207.50 C309.20,210.35 310.77,214.30 311.80,216.90 C312.83,219.50 313.58,221.30 314.10,223.10 C314.62,224.90 313.73,226.67 314.90,227.70 C316.07,228.73 318.78,228.52 321.10,229.30 C323.42,230.08 326.22,231.10 328.80,232.40 C331.38,233.70 334.27,235.28 336.60,237.10 C338.93,238.92 340.85,241.37 342.80,243.30 C344.75,245.23 346.10,246.75 348.30,248.70 C350.50,250.65 354.72,261.12 356.00,255.00 C357.28,248.88 357.28,219.13 356.00,212.00 C354.72,204.87 350.75,212.43 348.30,212.20 C345.85,211.97 343.50,211.38 341.30,210.60 C339.10,209.82 337.18,209.05 335.10,207.50 C333.02,205.95 330.57,203.57 328.80,201.30 C327.03,199.03 325.47,196.62 324.50,193.90 C323.53,191.18 327.08,186.48 323.00,185.00 C318.92,183.52 303.73,183.52 300.00,185.00Z" fill="#FF4100"/>
<path d="M356.00,218.00 C354.72,214.17 350.23,219.42 348.30,220.00 C346.37,220.58 345.52,220.73 344.40,221.50 C343.28,222.27 341.98,223.30 341.60,224.60 C341.22,225.90 341.50,227.48 342.10,229.30 C342.70,231.12 344.17,233.68 345.20,235.50 C346.23,237.32 346.50,238.95 348.30,240.20 C350.10,241.45 354.72,246.70 356.00,243.00 C357.28,239.30 357.28,221.83 356.00,218.00Z" fill="#C70000"/>
<ellipse cx="244.80" cy="265.10" rx="4.30" ry="4.00" fill="#C70000" transform="rotate(20.0 244.80 265.10)"/>
<ellipse cx="0" cy="0" rx="53.5" ry="30.9" transform="translate(275.55 273.80) rotate(-22.4)" fill="none" stroke="#000" stroke-width="0.85"/>
<polygon points="275.75,270.30 276.56,272.48 278.89,272.58 277.07,274.03 277.69,276.27 275.75,274.99 273.81,276.27 274.43,274.03 272.61,272.58 274.94,272.48" fill="#000"/>
<circle cx="255.50" cy="249.50" r="2.70" fill="none" stroke="#000" stroke-width="1.40"/>
<circle cx="224.80" cy="287.30" r="2.70" fill="none" stroke="#000" stroke-width="1.40"/>
<path d="M230.80,265.70 L234.80,269.70 M230.80,269.70 L234.80,265.70" stroke="#000" stroke-width="1.20" fill="none"/>
</g>
<g opacity="0.8">
<rect x="207.35" y="337.30" width="42.00" height="13.3" rx="2.4" ry="2.4" fill="none" stroke="#000" stroke-width="1.35"/>
</g><g opacity="0.72">
<text x="210.45" y="345.50" font-family="'Liberation Serif', 'DejaVu Serif', serif" font-size="8.0" fill="#000" stroke="#000" stroke-width="0.3" textLength="5.7" lengthAdjust="spacingAndGlyphs">Δ</text>
<text x="217.25" y="347.90" font-family="'Liberation Serif', 'DejaVu Serif', serif" font-size="5.4" font-style="italic" fill="#000" stroke="#000" stroke-width="0.1">L</text>
<text x="227.25" y="345.60" font-family="'Liberation Serif', 'DejaVu Serif', serif" font-size="8.6" fill="#000" fill-opacity="0.45" text-anchor="middle">=</text>
<text x="232.75" y="345.60" font-family="'Liberation Serif', 'DejaVu Serif', serif" font-size="7.6" fill="#000" stroke="#000" stroke-width="0.3" textLength="13.5" lengthAdjust="spacingAndGlyphs">5.83</text>
</g>
<rect x="202.75" y="193.50" width="146.00" height="160.20" fill="none" stroke="#000" stroke-width="0.75"/>
<path d="M202.75,193.50 v2.2 M202.75,353.70 v-2.2 M202.75,193.50 h2.2 M348.75,193.50 h-2.2 M227.08,193.50 v2.2 M227.08,353.70 v-2.2 M202.75,220.20 h2.2 M348.75,220.20 h-2.2 M251.42,193.50 v2.2 M251.42,353.70 v-2.2 M202.75,246.90 h2.2 M348.75,246.90 h-2.2 M275.75,193.50 v2.2 M275.75,353.70 v-2.2 M202.75,273.60 h2.2 M348.75,273.60 h-2.2 M300.08,193.50 v2.2 M300.08,353.70 v-2.2 M202.75,300.30 h2.2 M348.75,300.30 h-2.2 M324.42,193.50 v2.2 M324.42,353.70 v-2.2 M202.75,327.00 h2.2 M348.75,327.00 h-2.2 M348.75,193.50 v2.2 M348.75,353.70 v-2.2 M202.75,353.70 h2.2 M348.75,353.70 h-2.2" stroke="#000" stroke-width="0.6" fill="none"/>
<text x="233.00" y="190.85" font-family="'Liberation Serif', 'DejaVu Serif', serif" font-size="8.7" stroke="#000" stroke-width="0.12" textLength="62.70" lengthAdjust="spacingAndGlyphs">MagAO/Clio2 L</text>
<text x="296.55" y="190.85" font-family="'Liberation Serif', 'DejaVu Serif', serif" font-size="8.7" stroke="#000" stroke-width="0.12">&#39;</text>
<text x="300.95" y="190.85" font-family="'Liberation Serif', 'DejaVu Serif', serif" font-size="8.7" stroke="#000" stroke-width="0.12" textLength="18.10" lengthAdjust="spacingAndGlyphs">2013</text>
<text x="202.75" y="362.00" font-family="'Liberation Serif', 'DejaVu Serif', serif" font-size="7.4" text-anchor="middle" stroke="#000" stroke-width="0.12" textLength="11.6" lengthAdjust="spacingAndGlyphs">150</text>
<text x="227.08" y="362.00" font-family="'Liberation Serif', 'DejaVu Serif', serif" font-size="7.4" text-anchor="middle" stroke="#000" stroke-width="0.12" textLength="11.6" lengthAdjust="spacingAndGlyphs">100</text>
<text x="251.42" y="362.00" font-family="'Liberation Serif', 'DejaVu Serif', serif" font-size="7.4" text-anchor="middle" stroke="#000" stroke-width="0.12">50</text>
<text x="275.75" y="362.00" font-family="'Liberation Serif', 'DejaVu Serif', serif" font-size="7.4" text-anchor="middle" stroke="#000" stroke-width="0.12">0</text>
<text x="300.08" y="362.00" font-family="'Liberation Serif', 'DejaVu Serif', serif" font-size="7.4" text-anchor="middle" stroke="#000" stroke-width="0.12" textLength="13.5" lengthAdjust="spacingAndGlyphs">−50</text>
<text x="324.42" y="362.00" font-family="'Liberation Serif', 'DejaVu Serif', serif" font-size="7.4" text-anchor="middle" stroke="#000" stroke-width="0.12" textLength="17.3" lengthAdjust="spacingAndGlyphs">−100</text>
<text x="348.75" y="362.00" font-family="'Liberation Serif', 'DejaVu Serif', serif" font-size="7.4" text-anchor="middle" stroke="#000" stroke-width="0.12" textLength="17.3" lengthAdjust="spacingAndGlyphs">−150</text>
<text x="275.75" y="371.00" font-family="'Liberation Serif', 'DejaVu Serif', serif" font-size="8.7" stroke="#000" stroke-width="0.12" text-anchor="middle" textLength="30" lengthAdjust="spacingAndGlyphs"><tspan font-style="italic">&#945;</tspan> (mas)</text>
<g clip-path="url(#cp5)">
<rect x="375.20" y="193.50" width="146.00" height="160.20" fill="#FEBE7E"/>
<path d="M418.10,264.60 C418.53,263.73 420.15,263.03 421.60,262.90 C423.05,262.77 425.20,263.37 426.80,263.80 C428.40,264.23 430.08,264.78 431.20,265.50 C432.32,266.22 433.35,267.23 433.50,268.10 C433.65,268.97 433.07,270.12 432.10,270.70 C431.13,271.28 429.17,271.73 427.70,271.60 C426.23,271.47 424.75,270.48 423.30,269.90 C421.85,269.32 419.87,268.98 419.00,268.10 C418.13,267.22 417.67,265.47 418.10,264.60Z" fill="#FF4100"/>
<path d="M419.50,265.20 C419.83,264.60 420.78,264.10 422.00,264.00 C423.22,263.90 425.33,264.27 426.80,264.60 C428.27,264.93 429.82,265.42 430.80,266.00 C431.78,266.58 432.58,267.43 432.70,268.10 C432.82,268.77 432.33,269.55 431.50,270.00 C430.67,270.45 429.03,270.92 427.70,270.80 C426.37,270.68 424.78,269.83 423.50,269.30 C422.22,268.77 420.67,268.28 420.00,267.60 C419.33,266.92 419.17,265.80 419.50,265.20Z" fill="#C70000"/>
<ellipse cx="427.60" cy="267.60" rx="4.60" ry="2.90" fill="#4A0000" transform="rotate(12.0 427.60 267.60)"/>
<ellipse cx="428.00" cy="267.80" rx="3.00" ry="2.00" fill="#000000" transform="rotate(12.0 428.00 267.80)"/>
<ellipse cx="0" cy="0" rx="53.5" ry="30.9" transform="translate(448.00 273.80) rotate(-22.4)" fill="none" stroke="#000" stroke-width="0.85"/>
<polygon points="448.20,270.30 449.01,272.48 451.34,272.58 449.52,274.03 450.14,276.27 448.20,274.99 446.26,276.27 446.88,274.03 445.06,272.58 447.39,272.48" fill="#000"/>
<circle cx="427.40" cy="250.20" r="2.70" fill="none" stroke="#000" stroke-width="1.40"/>
<circle cx="397.20" cy="287.60" r="2.70" fill="none" stroke="#000" stroke-width="1.40"/>
<path d="M403.60,265.80 L407.60,269.80 M403.60,269.80 L407.60,265.80" stroke="#000" stroke-width="1.20" fill="none"/>
</g>
<g opacity="0.8">
<rect x="379.80" y="337.30" width="42.00" height="13.3" rx="2.4" ry="2.4" fill="none" stroke="#000" stroke-width="1.35"/>
</g><g opacity="0.72">
<text x="382.90" y="345.50" font-family="'Liberation Serif', 'DejaVu Serif', serif" font-size="8.0" fill="#000" stroke="#000" stroke-width="0.3" textLength="5.7" lengthAdjust="spacingAndGlyphs">Δ</text>
<text x="389.70" y="347.90" font-family="'Liberation Serif', 'DejaVu Serif', serif" font-size="5.4" font-style="italic" fill="#000" stroke="#000" stroke-width="0.1">L</text>
<text x="399.70" y="345.60" font-family="'Liberation Serif', 'DejaVu Serif', serif" font-size="8.6" fill="#000" fill-opacity="0.45" text-anchor="middle">=</text>
<text x="405.20" y="345.60" font-family="'Liberation Serif', 'DejaVu Serif', serif" font-size="7.6" fill="#000" stroke="#000" stroke-width="0.3" textLength="13.5" lengthAdjust="spacingAndGlyphs">5.17</text>
</g>
<rect x="375.20" y="193.50" width="146.00" height="160.20" fill="none" stroke="#000" stroke-width="0.75"/>
<path d="M375.20,193.50 v2.2 M375.20,353.70 v-2.2 M375.20,193.50 h2.2 M521.20,193.50 h-2.2 M399.53,193.50 v2.2 M399.53,353.70 v-2.2 M375.20,220.20 h2.2 M521.20,220.20 h-2.2 M423.87,193.50 v2.2 M423.87,353.70 v-2.2 M375.20,246.90 h2.2 M521.20,246.90 h-2.2 M448.20,193.50 v2.2 M448.20,353.70 v-2.2 M375.20,273.60 h2.2 M521.20,273.60 h-2.2 M472.53,193.50 v2.2 M472.53,353.70 v-2.2 M375.20,300.30 h2.2 M521.20,300.30 h-2.2 M496.87,193.50 v2.2 M496.87,353.70 v-2.2 M375.20,327.00 h2.2 M521.20,327.00 h-2.2 M521.20,193.50 v2.2 M521.20,353.70 v-2.2 M375.20,353.70 h2.2 M521.20,353.70 h-2.2" stroke="#000" stroke-width="0.6" fill="none"/>
<text x="448.20" y="190.85" font-family="'Liberation Serif', 'DejaVu Serif', serif" font-size="8.7" stroke="#000" stroke-width="0.12" text-anchor="middle" textLength="55.3" lengthAdjust="spacingAndGlyphs">NaCo Ks 2013</text>
<text x="375.20" y="362.00" font-family="'Liberation Serif', 'DejaVu Serif', serif" font-size="7.4" text-anchor="middle" stroke="#000" stroke-width="0.12" textLength="11.6" lengthAdjust="spacingAndGlyphs">150</text>
<text x="399.53" y="362.00" font-family="'Liberation Serif', 'DejaVu Serif', serif" font-size="7.4" text-anchor="middle" stroke="#000" stroke-width="0.12" textLength="11.6" lengthAdjust="spacingAndGlyphs">100</text>
<text x="423.87" y="362.00" font-family="'Liberation Serif', 'DejaVu Serif', serif" font-size="7.4" text-anchor="middle" stroke="#000" stroke-width="0.12">50</text>
<text x="448.20" y="362.00" font-family="'Liberation Serif', 'DejaVu Serif', serif" font-size="7.4" text-anchor="middle" stroke="#000" stroke-width="0.12">0</text>
<text x="472.53" y="362.00" font-family="'Liberation Serif', 'DejaVu Serif', serif" font-size="7.4" text-anchor="middle" stroke="#000" stroke-width="0.12" textLength="13.5" lengthAdjust="spacingAndGlyphs">−50</text>
<text x="496.87" y="362.00" font-family="'Liberation Serif', 'DejaVu Serif', serif" font-size="7.4" text-anchor="middle" stroke="#000" stroke-width="0.12" textLength="17.3" lengthAdjust="spacingAndGlyphs">−100</text>
<text x="521.20" y="362.00" font-family="'Liberation Serif', 'DejaVu Serif', serif" font-size="7.4" text-anchor="middle" stroke="#000" stroke-width="0.12" textLength="17.3" lengthAdjust="spacingAndGlyphs">−150</text>
<rect x="553.00" y="9.00" width="16.00" height="69.30" fill="#000000"/>
<text x="571.1" y="45.80" font-family="'Liberation Serif', 'DejaVu Serif', serif" font-size="7.8" stroke="#000" stroke-width="0.1">1</text>
<text x="577.0" y="45.80" font-family="'Liberation Serif', 'DejaVu Serif', serif" font-size="7.6" font-style="italic" textLength="4.8" lengthAdjust="spacingAndGlyphs">&#963;</text>
<rect x="553.00" y="78.00" width="16.00" height="69.30" fill="#4A0000"/>
<text x="571.1" y="114.80" font-family="'Liberation Serif', 'DejaVu Serif', serif" font-size="7.8" stroke="#000" stroke-width="0.1">2</text>
<text x="577.0" y="114.80" font-family="'Liberation Serif', 'DejaVu Serif', serif" font-size="7.6" font-style="italic" textLength="4.8" lengthAdjust="spacingAndGlyphs">&#963;</text>
<rect x="553.00" y="147.00" width="16.00" height="69.30" fill="#C70000"/>
<text x="571.1" y="183.80" font-family="'Liberation Serif', 'DejaVu Serif', serif" font-size="7.8" stroke="#000" stroke-width="0.1">3</text>
<text x="577.0" y="183.80" font-family="'Liberation Serif', 'DejaVu Serif', serif" font-size="7.6" font-style="italic" textLength="4.8" lengthAdjust="spacingAndGlyphs">&#963;</text>
<rect x="553.00" y="216.00" width="16.00" height="69.30" fill="#FF4100"/>
<text x="571.1" y="252.80" font-family="'Liberation Serif', 'DejaVu Serif', serif" font-size="7.8" stroke="#000" stroke-width="0.1">4</text>
<text x="577.0" y="252.80" font-family="'Liberation Serif', 'DejaVu Serif', serif" font-size="7.6" font-style="italic" textLength="4.8" lengthAdjust="spacingAndGlyphs">&#963;</text>
<rect x="553.00" y="285.00" width="16.00" height="69.30" fill="#FEBE7E"/>
<text x="571.6" y="321.80" font-family="'Liberation Serif', 'DejaVu Serif', serif" font-size="8.2" textLength="5.2" lengthAdjust="spacingAndGlyphs">&gt;</text>
<text x="579.2" y="321.80" font-family="'Liberation Serif', 'DejaVu Serif', serif" font-size="7.8" stroke="#000" stroke-width="0.1">4</text>
<text x="585.8" y="321.80" font-family="'Liberation Serif', 'DejaVu Serif', serif" font-size="7.6" font-style="italic" textLength="4.8" lengthAdjust="spacingAndGlyphs">&#963;</text>
<rect x="553.00" y="9.00" width="16.00" height="345.00" fill="none" stroke="#000" stroke-width="0.75"/>
<text transform="translate(598.6 181.50) rotate(-90)" font-family="'Liberation Serif', 'DejaVu Serif', serif" font-size="8.7" stroke="#000" stroke-width="0.12" text-anchor="middle" textLength="75.5" lengthAdjust="spacingAndGlyphs">Confidence Interval</text></svg>
</body></html>
